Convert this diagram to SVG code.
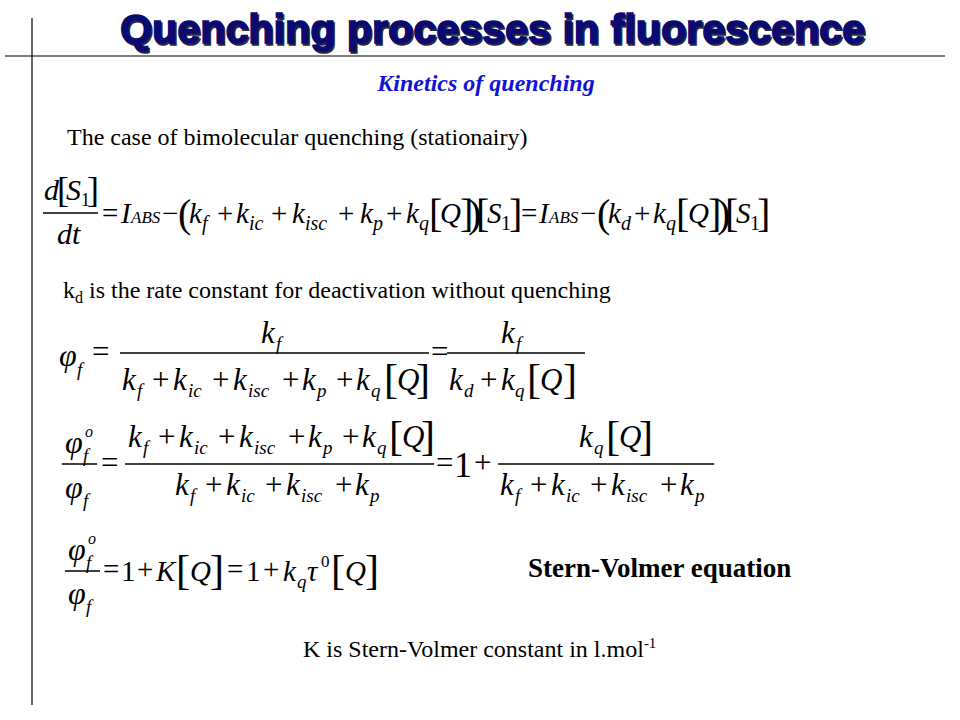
<svg xmlns="http://www.w3.org/2000/svg" width="960" height="720" viewBox="0 0 960 720">
<style>
.f{font-family:"Liberation Serif","Times New Roman",serif;fill:#000}
.i{font-style:italic}
.n{font-style:normal}
.m1{font-size:29px}.s1{font-size:20px}.a1{font-size:17px}.b1{font-size:40px}
.m2{font-size:31px}.s2{font-size:19px}.b2{font-size:42px}
.ph{font-size:32px}
.sup{font-size:16px}
.txt{font-family:"Liberation Serif","Times New Roman",serif;font-size:24px;fill:#000}
.bar{stroke:#000;stroke-width:1.3}
.rule{stroke:#000;stroke-width:1.2}
.title{font-family:"Liberation Sans",Arial,sans-serif;font-weight:bold;font-size:41px}
</style>
<rect width="960" height="720" fill="#fff"/>
<g id="rules">
<line class="rule" x1="32" y1="18" x2="32" y2="705"/>
<line class="rule" x1="5" y1="56" x2="945" y2="56"/>
</g>
<g id="title">
<text class="title" x="121.5" y="44.5" textLength="745" lengthAdjust="spacingAndGlyphs" fill="#2a2a3a" stroke="#2a2a3a" stroke-width="1.5">Quenching processes in fluorescence</text>
<text class="title" x="120" y="43" textLength="745" lengthAdjust="spacingAndGlyphs" fill="#0a0a72" stroke="#0a0a72" stroke-width="1.5">Quenching processes in fluorescence</text>
</g>
<g id="subtitle">
<text x="486" y="91" text-anchor="middle" font-family="Liberation Serif, Times New Roman, serif" font-style="italic" font-weight="bold" font-size="24" fill="#1212d6">Kinetics of quenching</text>
</g>
<g id="intro">
<text class="txt" x="67" y="145">The case of bimolecular quenching (stationairy)</text>
</g>
<g id="eq1">
<text class="f" font-size="30"><tspan class="i" x="44" y="200">d</tspan><tspan class="n" font-size="36" x="57" y="202">[</tspan><tspan class="i" x="66" y="200">S</tspan><tspan class="n" font-size="18" x="81" y="206">1</tspan><tspan class="n" font-size="36" x="87" y="202">]</tspan></text>
<line class="bar" x1="43" y1="213" x2="98" y2="213"/>
<text class="f i" font-size="30" x="57" y="244">dt</text>
<text class="f m1"><tspan class="n" x="102" y="223">=</tspan><tspan class="i" x="121" y="223">I</tspan><tspan class="i a1" x="131" y="223">ABS</tspan><tspan class="n" x="162" y="223">−</tspan><tspan class="n b1" x="178" y="227">(</tspan><tspan class="i" x="189" y="223">k</tspan><tspan class="i s1" x="202" y="230">f</tspan><tspan class="n" x="217" y="223">+</tspan><tspan class="i" x="236" y="223">k</tspan><tspan class="i s1" x="249" y="230">ic</tspan><tspan class="n" x="271" y="223">+</tspan><tspan class="i" x="292" y="223">k</tspan><tspan class="i s1" x="305" y="230">isc</tspan><tspan class="n" x="338" y="223">+</tspan><tspan class="i" x="360" y="223">k</tspan><tspan class="i s1" x="373" y="230">p</tspan><tspan class="n" x="386" y="223">+</tspan><tspan class="i" x="406" y="223">k</tspan><tspan class="i s1" x="419" y="230">q</tspan><tspan class="n b1" x="429" y="227">[</tspan><tspan class="i" x="440" y="223">Q</tspan><tspan class="n b1" x="460" y="227">]</tspan><tspan class="n b1" x="468" y="227">)</tspan><tspan class="n b1" x="476" y="227">[</tspan><tspan class="i" x="487" y="223">S</tspan><tspan class="n s1" x="501" y="230">1</tspan><tspan class="n b1" x="509" y="227">]</tspan><tspan class="n" x="521" y="223">=</tspan><tspan class="i" x="539" y="223">I</tspan><tspan class="i a1" x="549" y="223">ABS</tspan><tspan class="n" x="580" y="223">−</tspan><tspan class="n b1" x="597" y="227">(</tspan><tspan class="i" x="608" y="223">k</tspan><tspan class="i s1" x="621" y="230">d</tspan><tspan class="n" x="634" y="223">+</tspan><tspan class="i" x="653" y="223">k</tspan><tspan class="i s1" x="666" y="230">q</tspan><tspan class="n b1" x="676" y="227">[</tspan><tspan class="i" x="688" y="223">Q</tspan><tspan class="n b1" x="708" y="227">]</tspan><tspan class="n b1" x="717" y="227">)</tspan><tspan class="n b1" x="725" y="227">[</tspan><tspan class="i" x="736" y="223">S</tspan><tspan class="n s1" x="750" y="230">1</tspan><tspan class="n b1" x="757" y="227">]</tspan></text>
</g>
<g id="kd-note">
<text class="txt" x="63" y="298">k<tspan font-size="16" dy="5">d</tspan><tspan dy="-5"> is the rate constant for deactivation without quenching</tspan></text>
</g>
<g id="eq2">
<text class="f"><tspan class="i ph" x="59" y="366">φ</tspan><tspan class="i s2" x="77" y="376">f</tspan><tspan class="n m2" x="92" y="362">=</tspan></text>
<text class="f"><tspan class="i m2" x="261" y="343">k</tspan><tspan class="i s2" x="276" y="350">f</tspan></text>
<line class="bar" x1="120" y1="353" x2="429" y2="353"/>
<text class="f m2"><tspan class="i" x="122" y="390">k</tspan><tspan class="i s2" x="137" y="397">f</tspan><tspan class="n" x="152" y="390">+</tspan><tspan class="i" x="173" y="390">k</tspan><tspan class="i s2" x="188" y="397">ic</tspan><tspan class="n" x="212" y="390">+</tspan><tspan class="i" x="233" y="390">k</tspan><tspan class="i s2" x="248" y="397">isc</tspan><tspan class="n" x="282" y="390">+</tspan><tspan class="i" x="302" y="390">k</tspan><tspan class="i s2" x="317" y="397">p</tspan><tspan class="n" x="336" y="390">+</tspan><tspan class="i" x="356" y="390">k</tspan><tspan class="i s2" x="371" y="397">q</tspan><tspan class="n b2" x="384" y="393">[</tspan><tspan class="i" x="397" y="390">Q</tspan><tspan class="n b2" x="416" y="393">]</tspan></text>
<text class="f n m2" x="431" y="362">=</text>
<text class="f"><tspan class="i m2" x="501" y="343">k</tspan><tspan class="i s2" x="516" y="350">f</tspan></text>
<line class="bar" x1="447" y1="353" x2="585" y2="353"/>
<text class="f m2"><tspan class="i" x="449" y="390">k</tspan><tspan class="i s2" x="464" y="397">d</tspan><tspan class="n" x="480" y="390">+</tspan><tspan class="i" x="501" y="390">k</tspan><tspan class="i s2" x="515" y="397">q</tspan><tspan class="n b2" x="527" y="393">[</tspan><tspan class="i" x="540" y="390">Q</tspan><tspan class="n b2" x="563" y="393">]</tspan></text>
</g>
<g id="eq3">
<text class="f"><tspan class="i ph" x="65" y="453">φ</tspan><tspan class="i s2" x="83" y="462">f</tspan><tspan class="i sup" x="85" y="437">o</tspan></text>
<line class="bar" x1="62" y1="464" x2="97" y2="464"/>
<text class="f"><tspan class="i ph" x="65" y="498">φ</tspan><tspan class="i s2" x="83" y="507">f</tspan></text>
<text class="f n m2" x="101" y="473">=</text>
<text class="f m2"><tspan class="i" x="128" y="447">k</tspan><tspan class="i s2" x="143" y="454">f</tspan><tspan class="n" x="158" y="447">+</tspan><tspan class="i" x="179" y="447">k</tspan><tspan class="i s2" x="194" y="454">ic</tspan><tspan class="n" x="218" y="447">+</tspan><tspan class="i" x="239" y="447">k</tspan><tspan class="i s2" x="254" y="454">isc</tspan><tspan class="n" x="288" y="447">+</tspan><tspan class="i" x="308" y="447">k</tspan><tspan class="i s2" x="323" y="454">p</tspan><tspan class="n" x="342" y="447">+</tspan><tspan class="i" x="362" y="447">k</tspan><tspan class="i s2" x="377" y="454">q</tspan><tspan class="n b2" x="389" y="450">[</tspan><tspan class="i" x="402" y="447">Q</tspan><tspan class="n b2" x="421" y="450">]</tspan></text>
<line class="bar" x1="125" y1="464" x2="434" y2="464"/>
<text class="f m2"><tspan class="i" x="175" y="495">k</tspan><tspan class="i s2" x="190" y="502">f</tspan><tspan class="n" x="205" y="495">+</tspan><tspan class="i" x="226" y="495">k</tspan><tspan class="i s2" x="241" y="502">ic</tspan><tspan class="n" x="265" y="495">+</tspan><tspan class="i" x="286" y="495">k</tspan><tspan class="i s2" x="301" y="502">isc</tspan><tspan class="n" x="335" y="495">+</tspan><tspan class="i" x="355" y="495">k</tspan><tspan class="i s2" x="370" y="502">p</tspan></text>
<text class="f m2"><tspan class="n" x="436" y="473">=</tspan><tspan class="n" font-size="36" x="454" y="477">1</tspan><tspan class="n" x="474" y="473">+</tspan></text>
<text class="f m2"><tspan class="i" x="579" y="447">k</tspan><tspan class="i s2" x="594" y="454">q</tspan><tspan class="n b2" x="606" y="450">[</tspan><tspan class="i" x="619" y="447">Q</tspan><tspan class="n b2" x="639" y="450">]</tspan></text>
<line class="bar" x1="498" y1="464" x2="714" y2="464"/>
<text class="f m2"><tspan class="i" x="500" y="495">k</tspan><tspan class="i s2" x="515" y="502">f</tspan><tspan class="n" x="530" y="495">+</tspan><tspan class="i" x="551" y="495">k</tspan><tspan class="i s2" x="566" y="502">ic</tspan><tspan class="n" x="590" y="495">+</tspan><tspan class="i" x="611" y="495">k</tspan><tspan class="i s2" x="626" y="502">isc</tspan><tspan class="n" x="660" y="495">+</tspan><tspan class="i" x="680" y="495">k</tspan><tspan class="i s2" x="695" y="502">p</tspan></text>
</g>
<g id="eq4">
<text class="f"><tspan class="i ph" x="68" y="560">φ</tspan><tspan class="i s2" x="86" y="569">f</tspan><tspan class="i sup" x="88" y="544">o</tspan></text>
<line class="bar" x1="65" y1="571" x2="100" y2="571"/>
<text class="f"><tspan class="i ph" x="68" y="604">φ</tspan><tspan class="i s2" x="86" y="613">f</tspan></text>
<text class="f m1"><tspan class="n" x="103" y="579">=</tspan><tspan class="n" x="121" y="581">1</tspan><tspan class="n" x="137" y="579">+</tspan><tspan class="i" x="156" y="581">K</tspan><tspan class="n b2" x="176" y="584">[</tspan><tspan class="i" x="190" y="581">Q</tspan><tspan class="n b2" x="210" y="584">]</tspan><tspan class="n" x="227" y="579">=</tspan><tspan class="n" x="246" y="581">1</tspan><tspan class="n" x="263" y="579">+</tspan><tspan class="i" x="283" y="581">k</tspan><tspan class="i s2" x="297" y="588">q</tspan><tspan class="i" x="307" y="581">τ</tspan><tspan class="n" font-size="17" x="321" y="567">0</tspan><tspan class="n b2" x="331" y="584">[</tspan><tspan class="i" x="345" y="581">Q</tspan><tspan class="n b2" x="365" y="584">]</tspan></text>
</g>
<g id="stern-volmer">
<text x="528" y="577" font-family="Liberation Serif, Times New Roman, serif" font-weight="bold" font-size="27" fill="#000">Stern-Volmer equation</text>
</g>
<g id="constant-note">
<text class="txt" x="303" y="657">K is Stern-Volmer constant  in l.mol<tspan font-size="15" dy="-9">-1</tspan></text>
</g>
</svg>
